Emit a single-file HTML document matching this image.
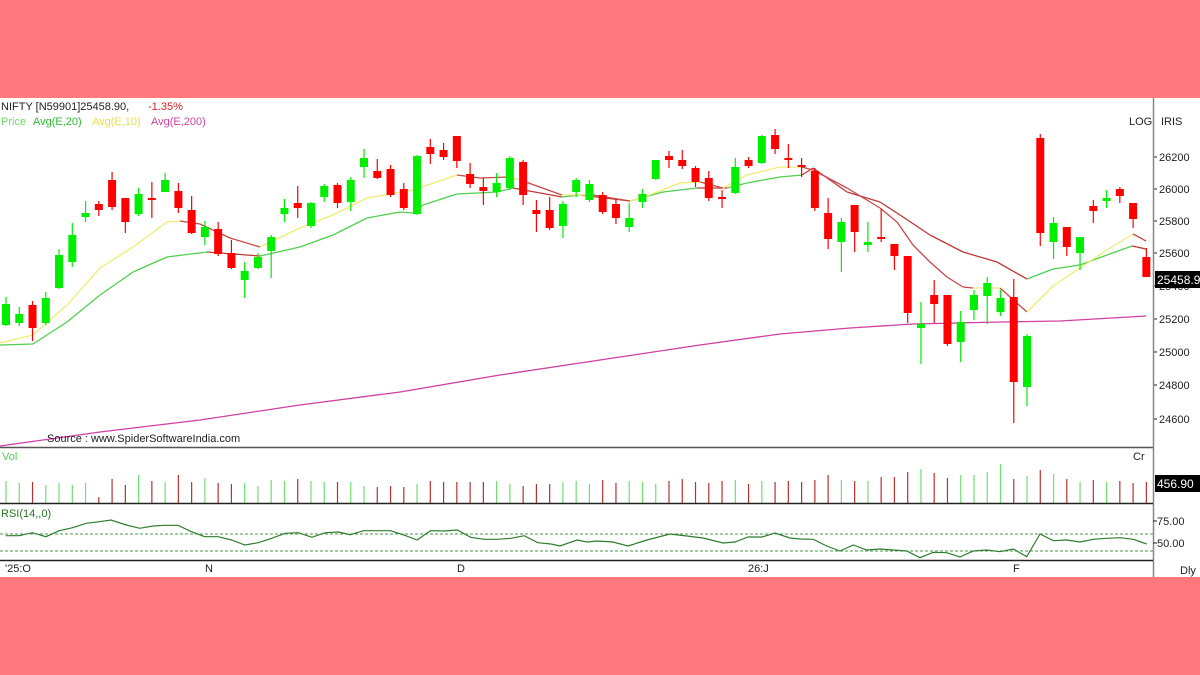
<!DOCTYPE html>
<html><head><meta charset="utf-8"><style>
html,body{margin:0;padding:0;background:#ff787e;}
svg{display:block;font-family:"Liberation Sans",sans-serif;}
</style></head><body>
<svg id="s" width="1200" height="675" xmlns="http://www.w3.org/2000/svg">
<rect x="0" y="0" width="1200" height="675" fill="#ff787e"/>
<rect x="0" y="98" width="1200" height="479" fill="#ffffff"/>
<g id="g"></g>
<line x1="1153.5" y1="98" x2="1153.5" y2="577" stroke="#888" stroke-width="1.5"/>
<line x1="0" y1="447.5" x2="1153" y2="447.5" stroke="#555" stroke-width="1.5"/>
<line x1="0" y1="503.5" x2="1153" y2="503.5" stroke="#222" stroke-width="1.5"/>
<line x1="0" y1="560.5" x2="1153" y2="560.5" stroke="#222" stroke-width="1.5"/>
<text x="1" y="110" font-size="11" fill="#222">NIFTY [N59901]25458.90,</text>
<text x="148" y="110" font-size="11" fill="#e02020">-1.35%</text>
<text x="1" y="125" font-size="11" fill="#66dd66">Price</text>
<text x="33" y="125" font-size="11" fill="#33bb33">Avg(E,20)</text>
<text x="92" y="125" font-size="11" fill="#e8e04a">Avg(E,10)</text>
<text x="151" y="125" font-size="11" fill="#d040a0">Avg(E,200)</text>
<text x="1129" y="125" font-size="11" fill="#222">LOG</text>
<text x="1161" y="125" font-size="11" fill="#222">IRIS</text>
<text x="47" y="442" font-size="11" fill="#222">Source : www.SpiderSoftwareIndia.com</text>
<text x="2" y="460" font-size="11" fill="#55cc55">Vol</text>
<text x="1133" y="460" font-size="11" fill="#222">Cr</text>
<text x="1" y="517" font-size="11" fill="#227722">RSI(14,,0)</text>
<text x="5" y="572" font-size="11" fill="#222">'25:O</text>
<text x="205" y="572" font-size="11" fill="#222">N</text>
<text x="457" y="572" font-size="11" fill="#222">D</text>
<text x="748" y="572" font-size="11" fill="#222">26:J</text>
<text x="1013" y="572" font-size="11" fill="#222">F</text>
<text x="1180" y="574" font-size="11" fill="#222">Dly</text>
<rect x="1155" y="475" width="45" height="17" fill="#000"/>
<text x="1157" y="488" font-size="12" fill="#fff">456.90</text>
<text x="1157" y="525" font-size="11" fill="#222">75.00</text>
<text x="1157" y="547" font-size="11" fill="#222">50.00</text>
<line x1="1153" y1="521" x2="1157" y2="521" stroke="#222"/>
<line x1="1153" y1="543" x2="1157" y2="543" stroke="#222"/>
</svg>
<script>
var NS="http://www.w3.org/2000/svg",G=document.getElementById('g');
function el(t,a,p){var e=document.createElementNS(NS,t);for(var k in a)e.setAttribute(k,a[k]);(p||G).appendChild(e);return e;}
var C=[[297,304,325,326,'g'],[307,314,323,326,'g'],[301,305,328,341,'r'],[292,298,323,325,'g'],[249,255,288,289,'g'],[223,235,262,267,'g'],[201,213,217,222,'g'],[201,204,210,216,'r'],[172,180,207,210,'r'],[198,198,222,233,'r'],[188,194,214,216,'g'],[182,198,199,218,'r'],[173,180,192,192,'g'],[183,191,208,213,'r'],[196,210,233,234,'r'],[221,227,237,245,'g'],[222,229,254,256,'r'],[240,253,268,269,'r'],[262,271,280,298,'g'],[253,257,268,269,'g'],[235,237,251,278,'g'],[199,208,214,222,'g'],[186,203,208,218,'r'],[202,203,226,228,'g'],[184,186,197,202,'g'],[183,185,203,208,'r'],[177,180,202,211,'g'],[149,158,167,178,'g'],[159,171,178,179,'r'],[165,169,195,197,'r'],[183,189,208,210,'r'],[155,156,214,215,'g'],[139,147,154,164,'r'],[143,150,157,160,'r'],[136,136,161,168,'r'],[163,174,184,188,'r'],[178,187,191,205,'r'],[173,183,192,197,'g'],[156,158,188,190,'g'],[160,162,195,205,'r'],[200,210,214,232,'r'],[197,210,228,230,'r'],[201,204,226,238,'g'],[178,180,192,197,'g'],[180,184,200,202,'g'],[192,195,212,214,'r'],[199,204,218,224,'r'],[203,218,227,232,'g'],[189,194,202,208,'g'],[160,160,179,180,'g'],[151,156,160,168,'r'],[150,160,166,169,'r'],[166,168,182,187,'r'],[171,178,198,201,'r'],[190,197,198,208,'r'],[158,167,193,194,'g'],[157,160,166,168,'r'],[135,136,163,164,'g'],[129,135,149,154,'r'],[144,158,160,168,'r'],[158,165,167,177,'r'],[168,171,208,211,'r'],[198,213,239,249,'r'],[218,222,242,272,'g'],[205,205,232,252,'r'],[222,242,245,252,'g'],[209,237,239,242,'r'],[244,244,256,270,'r'],[256,256,313,323,'r'],[302,324,328,364,'g'],[280,295,304,323,'r'],[295,295,344,346,'r'],[311,322,342,362,'g'],[290,295,310,320,'g'],[277,283,296,324,'g'],[290,298,312,316,'g'],[279,297,382,423,'r'],[334,336,387,406,'g'],[134,138,233,246,'r'],[217,223,242,259,'g'],[227,227,247,256,'r'],[237,237,253,270,'g'],[200,206,211,223,'r'],[190,198,201,208,'g'],[187,189,196,203,'r'],[203,203,219,228,'r'],[248,257,277,277,'r']];
var V=[22,20,21,18,20,18,20,6,24,18,28,22,21,28,21,25,20,19,20,17,23,22,24,22,21,21,21,17,16,17,16,19,22,21,21,21,21,22,19,17,19,19,21,22,19,23,20,22,21,19,22,24,21,20,22,23,19,22,21,22,21,23,28,23,22,22,26,26,31,34,30,25,28,28,31,39,24,27,33,29,24,21,23,21,22,20,21];
function X(i){return 6+13.26*i;}
var ticks=[[26200,157],[26000,189],[25800,221],[25600,253],[25400,286],[25200,319],[25000,352],[24800,385],[24600,419]];
ticks.forEach(function(t){el('line',{x1:1153,y1:t[1],x2:1157,y2:t[1],stroke:'#222'});var tx=el('text',{x:1159,y:t[1]+4,'font-size':11,fill:'#222'});tx.textContent=t[0];});
el('polyline',{points:'0,446 100,432 200,420 300,405 400,392 500,375 600,360 700,345 780,334 850,328 913,324 1000,322 1060,321 1146,316',fill:'none',stroke:'#d040a0','stroke-width':1.3});
function seg(P,cols){for(var i=0;i<P.length-1;i++){el('line',{x1:P[i][0],y1:P[i][1],x2:P[i+1][0],y2:P[i+1][1],stroke:cols[P[i][2]],'stroke-width':1.3});}}
var E20=[[0,345,'g'],[33,344,'g'],[67,322,'g'],[100,295,'g'],[133,272,'g'],[167,257,'g'],[207,252,'r'],[260,256,'g'],[300,247,'g'],[333,235,'g'],[367,218,'g'],[400,212,'g'],[413,213,'g'],[423,205,'g'],[457,194,'g'],[497,192,'g'],[513,188,'r'],[562,197,'g'],[580,195,'r'],[630,201,'g'],[663,192,'g'],[697,188,'r'],[727,188,'g'],[747,183,'g'],[780,177,'g'],[802,175,'r'],[813,168,'r'],[847,192,'r'],[880,202,'r'],[897,213,'r'],[930,235,'r'],[963,252,'r'],[997,262,'r'],[1027,279,'g'],[1053,269,'g'],[1080,265,'g'],[1107,255,'g'],[1132,246,'r'],[1146,249,'r']];
var E10=[[0,343,'y'],[33,335,'y'],[67,305,'y'],[100,268,'y'],[133,247,'y'],[167,222,'y'],[180,221,'r'],[200,224,'r'],[230,238,'r'],[260,247,'y'],[300,228,'y'],[333,215,'y'],[367,198,'y'],[390,194,'y'],[413,190,'y'],[457,175,'r'],[480,178,'r'],[510,177,'y'],[520,180,'r'],[562,195,'y'],[593,195,'r'],[630,201,'y'],[647,196,'y'],[680,183,'y'],[700,182,'r'],[723,188,'y'],[747,175,'y'],[780,167,'y'],[802,167,'r'],[813,170,'r'],[847,188,'r'],[880,208,'r'],[897,222,'r'],[913,245,'r'],[930,262,'r'],[947,277,'r'],[963,287,'r'],[973,288,'y'],[1000,288,'r'],[1027,312,'y'],[1053,286,'y'],[1080,268,'y'],[1107,250,'y'],[1133,234,'r'],[1146,241,'r']];
seg(E20,{g:'#4fcf4f',r:'#c03838'});
seg(E10,{y:'#f0ec70',r:'#c84848'});
C.forEach(function(c,i){var x=X(i),col=c[4]=='g'?'#00ee00':'#ff0000';
el('line',{x1:x,y1:c[0],x2:x,y2:c[3],stroke:col,'stroke-width':1.2});
el('rect',{x:x-4,y:c[1],width:8,height:Math.max(2,c[2]-c[1]),fill:col});
var vc=c[4]=='g'?'#6ee06e':'#b83030';
el('line',{x1:x,y1:503-V[i],x2:x,y2:503,stroke:vc,'stroke-width':1.2});});
el('rect',{x:1155,y:271,width:45,height:17,fill:'#000'});
var t=el('text',{x:1157,y:284,'font-size':12,fill:'#fff'});t.textContent='25458.9';
el('line',{x1:0,y1:534,x2:1153,y2:534,stroke:'#4a9a4a','stroke-dasharray':'3,2'});
el('line',{x1:0,y1:551,x2:1153,y2:551,stroke:'#4a9a4a','stroke-dasharray':'3,2'});
var R1=[[15,287],[50,287],[85,278],[120,290],[155,272],[190,263],[225,250],[260,245],[290,240],[330,255],[365,265],[400,258],[430,256],[465,256],[500,275],[535,290],[570,290],[605,300],[640,315],[675,308],[710,295],[745,280],[780,278],[815,292],[850,278],[885,276],[915,284],[950,272],[985,272],[1020,272],[1055,285],[1090,300],[1125,272],[1160,273],[1195,270],[1230,292],[1265,298],[1300,298],[1335,295],[1370,287],[1405,308],[1440,312]];
var pts=R1.map(function(p){return [p[0]/2.613,440+p[1]/3];});
pts=pts.concat([[560,546],[577,540],[587,542],[597,541],[613,542],[628,546],[647,540],[670,534],[687,536],[703,538],[723,543],[735,542],[748,537],[762,537],[775,533],[790,538]]);
var R2=[[0,297],[40,298],[80,318],[120,333],[160,315],[200,330],[240,327],[280,330],[320,333],[360,353],[400,337],[440,338],[480,351],[520,333],[560,330],[600,335],[640,327],[680,350],[720,282],[760,302],[800,300],[840,306],[880,298],[920,295],[960,293],[1000,298],[1040,312]];
pts=pts.concat(R2.map(function(p){return [800+p[0]/3,440+p[1]/3];}));
el('polyline',{points:pts.map(function(p){return p[0].toFixed(1)+','+p[1].toFixed(1);}).join(' '),fill:'none',stroke:'#2e7d2e','stroke-width':1.2});
</script>
</body></html>
